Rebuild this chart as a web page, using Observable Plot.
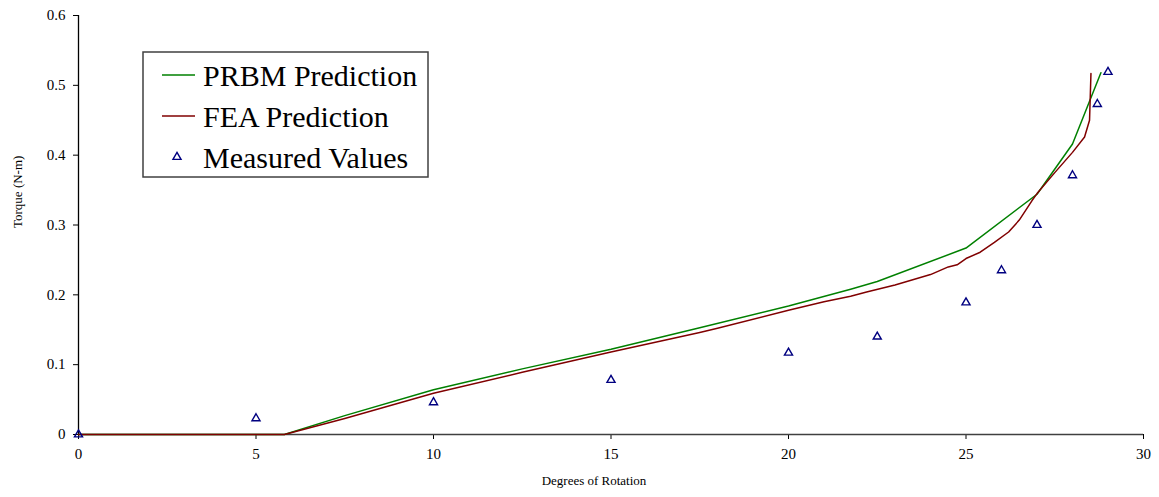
<!DOCTYPE html>
<html><head>
<meta charset="utf-8">
<script src="https://cdn.jsdelivr.net/npm/d3@7"></script>
<script src="https://cdn.jsdelivr.net/npm/@observablehq/plot@0.6"></script>
<style>body{margin:0;background:#fff;} svg{display:block;}</style>
</head><body><div id="chart"></div>
<script>
const prbmX = [0, 5.8, 7.5, 10, 12.5, 15, 17.5, 20, 21.75, 22.5, 25, 27, 28, 28.8];
const prbmY = [0, 0, 0.027, 0.064, 0.094, 0.122, 0.153, 0.184, 0.208, 0.219, 0.267, 0.344, 0.416, 0.518];
const feaX = [0, 5.8, 7.5, 10, 12.5, 15, 17.5, 18, 20, 21, 21.75, 22.2, 23, 24, 24.5, 24.75, 25, 25.4, 25.8, 26.2, 26.5, 26.86, 27, 27.5, 28, 28.34, 28.48, 28.52];
const feaY = [0, 0, 0.023, 0.059, 0.089, 0.118, 0.146, 0.152, 0.178, 0.190, 0.198, 0.204, 0.214, 0.229, 0.240, 0.243, 0.252, 0.261, 0.275, 0.290, 0.307, 0.335, 0.345, 0.375, 0.404, 0.426, 0.450, 0.517];
const measX = [0, 5, 10, 15, 20, 22.5, 25, 26, 27, 28, 28.7, 29];
const measY = [0, 0.023, 0.046, 0.078, 0.117, 0.140, 0.189, 0.235, 0.300, 0.371, 0.473, 0.519];
const xTicks = [0, 5, 10, 15, 20, 25, 30];
const yTicks = [0, 0.1, 0.2, 0.3, 0.4, 0.5, 0.6];
const seriesNames = ["PRBM Prediction", "FEA Prediction", "Measured Values"];
const xTitle = "Degrees of Rotation";
const yTitle = "Torque (N-m)";

const prbm = prbmX.map((x, i) => ({x, y: prbmY[i]}));
const fea = feaX.map((x, i) => ({x, y: feaY[i]}));
const meas = measX.map((x, i) => ({x, y: measY[i]}));

const font = "'Liberation Serif', 'Times New Roman', serif";
const svg = Plot.plot({
  width: 1159, height: 497,
  marginLeft: 78, marginRight: 16, marginTop: 15, marginBottom: 63,
  style: {fontFamily: font, fontSize: "15px", background: "white", color: "black"},
  x: {domain: [0, 30]},
  y: {domain: [0, 0.6]},
  marks: [
    Plot.axisX({ticks: xTicks, tickSize: 5, tickPadding: 9, tickFormat: d => String(d), label: null, fontSize: 15}),
    Plot.axisY({ticks: yTicks, tickSize: 5, tickPadding: 8, tickFormat: d => d === 0 ? "0" : d.toFixed(1), label: null, fontSize: 15}),
    Plot.ruleY([0], {stroke: "#404040", strokeWidth: 1.3}),
    Plot.ruleX([0], {stroke: "black", strokeWidth: 1.3}),
    Plot.line(prbm, {x: "x", y: "y", stroke: "#008000", strokeWidth: 1.5}),
    Plot.line(fea, {x: "x", y: "y", stroke: "#800000", strokeWidth: 1.5}),
    Plot.dot(meas, {x: "x", y: "y", symbol: "triangle", r: 3, stroke: "#000080", strokeWidth: 1.4, fill: "none"}),
    Plot.text([xTitle], {frameAnchor: "bottom", dy: 50, dx: -17, fontSize: 13, fill: "black"}),
    Plot.text([yTitle], {frameAnchor: "left", dx: -61, dy: 3, rotate: -90, fontSize: 13, fill: "black"})
  ]
});

// legend box
const g = d3.select(svg).append("g").attr("font-family", font).attr("text-anchor", "start");
g.append("rect").attr("x", 143).attr("y", 52).attr("width", 285).attr("height", 125)
  .attr("fill", "white").attr("stroke", "#404040").attr("stroke-width", 1.5);
const rows = [75, 116, 157];
g.append("line").attr("x1", 162).attr("x2", 195).attr("y1", rows[0]).attr("y2", rows[0]).attr("stroke", "#008000").attr("stroke-width", 1.5);
g.append("line").attr("x1", 162).attr("x2", 195).attr("y1", rows[1]).attr("y2", rows[1]).attr("stroke", "#800000").attr("stroke-width", 1.5);
g.append("path").attr("d", d3.symbol(d3.symbolTriangle, Math.PI * 9)()).attr("transform", `translate(177,${rows[2]})`)
  .attr("fill", "none").attr("stroke", "#000080").attr("stroke-width", 1.4);
seriesNames.forEach((name, i) => {
  g.append("text").attr("x", 203).attr("y", rows[i]).attr("dy", "0.35em").attr("font-size", 30)
    .attr("text-anchor", "start").attr("fill", "black").text(name);
});

document.getElementById("chart").appendChild(svg);
</script>
</body></html>
